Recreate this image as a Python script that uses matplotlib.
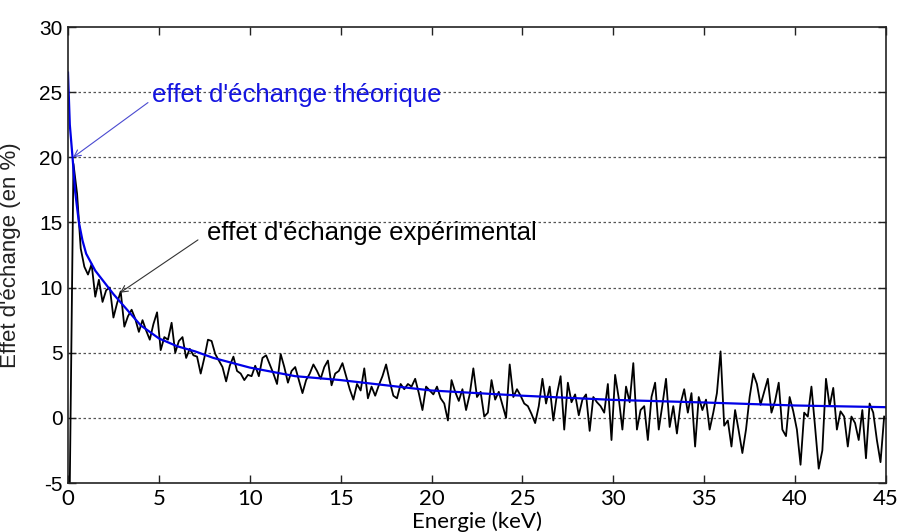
import numpy as np
import matplotlib
matplotlib.use("Agg")
import matplotlib.pyplot as plt

# experimental exchange effect, sampled every 0.2 keV starting at 0.1 keV
energie_exp = np.arange(0.1, 45.0, 0.2)
effet_exp = [
    -5.0, 19.5, 17.2, 13.0, 11.6, 11.0, 11.8, 9.3, 10.6, 8.9,
    9.8, 10.0, 7.7, 8.8, 9.7, 7.0, 7.8, 8.3, 7.6, 6.6,
    7.5, 6.7, 6.0, 7.2, 8.1, 5.2, 6.2, 6.0, 7.3, 5.0,
    5.9, 6.2, 4.6, 5.3, 4.8, 4.7, 3.4, 4.6, 6.0, 5.9,
    4.9, 4.4, 3.9, 2.8, 4.0, 4.7, 3.6, 3.4, 2.9, 3.3,
    3.2, 4.0, 3.2, 4.6, 4.8, 4.1, 3.4, 2.6, 4.9, 3.9,
    2.7, 3.6, 3.9, 2.9, 1.9, 2.9, 3.4, 4.1, 3.6, 3.0,
    3.9, 4.4, 2.5, 3.4, 3.6, 4.2, 3.2, 2.2, 1.4, 2.6,
    2.1, 3.8, 1.5, 2.4, 1.7, 2.5, 3.2, 4.1, 2.8, 1.7,
    1.5, 2.6, 2.2, 2.6, 2.4, 3.0, 1.9, 0.6, 2.4, 2.1,
    1.8, 2.4, 1.5, 1.1, -0.2, 2.9, 2.0, 1.3, 2.2, 0.6,
    1.8, 3.8, 1.6, 2.0, 0.1, 0.4, 2.9, 1.4, 2.0, 1.0,
    0.0, 4.1, 1.6, 2.2, 1.7, 1.1, 0.9, 0.3, -0.4, 0.9,
    3.0, 1.1, 2.4, -0.2, 1.8, 3.2, -0.9, 2.7, 1.2, 1.8,
    0.2, 1.4, 1.8, -1.0, 1.6, 1.2, 0.9, 0.4, 2.6, -1.7,
    3.3, 1.5, -0.9, 2.4, 1.2, 4.2, -0.9, 0.6, 0.9, -1.7,
    1.6, 2.7, -0.9, 1.0, 3.0, -0.7, 0.9, -1.2, 1.1, 2.2,
    0.4, 1.9, -2.2, 1.6, 0.6, 1.4, -0.9, 0.4, 1.9, 5.1,
    -0.6, -0.2, -2.2, 0.6, -1.0, -2.7, -0.9, 1.6, 3.4, 2.6,
    1.0, 2.0, 3.0, 0.4, 1.3, 2.7, -0.9, -1.4, 1.6, 0.5,
    -0.9, -3.6, 0.4, 0.1, 2.4, -0.7, -3.9, -2.5, 3.0, 0.9,
    2.3, -0.9, 0.5, 0.1, -2.2, 0.1, -0.4, -1.7, 0.6, -3.1,
    1.1, 0.4, -1.7, -3.4, 0.1,
]

# theoretical exchange effect
energie_th = [0, 0.1, 0.25, 0.4, 0.6, 0.8, 1.0, 1.5, 2.0, 2.5, 3, 4, 5, 6, 7,
              8, 10, 12.5, 15, 20, 25, 30, 35, 40, 45]
effet_th = [26.5, 22.5, 20.0, 17.3, 15.0, 13.6, 12.6, 11.3, 10.4, 9.5, 8.7,
            7.1, 6.1, 5.5, 5.1, 4.6, 3.86, 3.2, 2.9, 2.1, 1.7, 1.38, 1.18,
            0.95, 0.82]

xticks = [0, 5, 10, 15, 20, 25, 30, 35, 40, 45]
yticks = [-5, 0, 5, 10, 15, 20, 25, 30]

fig = plt.figure(figsize=(8.97, 5.32), dpi=100)
ax = fig.add_axes([0.0758, 0.0921, 0.9119, 0.8571])

ax.plot(energie_exp, effet_exp, color='black', lw=1.3)
ax.plot(energie_th, effet_th, color='#0000e6', lw=1.6)

ax.set_xlim(0, 45)
ax.set_ylim(-5, 30)
ax.set_xticks(xticks)
ax.set_yticks(yticks)
ax.set_xticklabels([str(v) for v in xticks], family='Lato', fontsize=16)
ax.set_yticklabels([str(v) for v in yticks], family='Liberation Sans', fontsize=15)
ax.tick_params(direction='in', length=6, width=1, top=True, right=True, color='#222222')
ax.tick_params(axis='x', pad=4)
ax.tick_params(axis='y', pad=4)

for g in [0, 5, 10, 15, 20, 25]:
    ax.axhline(g, color='#555555', lw=0.9, ls=(0, (2, 2)), zorder=0)

for s in ax.spines.values():
    s.set_linewidth(1.2)
    s.set_color('#222222')

ax.set_xlabel('Energie (keV)', family='Lato', fontsize=16, labelpad=2)
ax.set_ylabel("Effet d'échange (en %)", family='Liberation Sans', fontsize=16, color='#222222')
ax.yaxis.set_label_coords(-0.058, 0.5)

# annotations
ax.text(4.6, 24.25, "effet d'échange théorique", color='#1414e0', fontsize=18.5,
        family='Liberation Sans', va='baseline')
ax.annotate('', xy=(0.28, 20.0), xytext=(4.4, 24.2),
            arrowprops=dict(arrowstyle='->', color='#4a4ad0', lw=0.8,
                            shrinkA=0, shrinkB=0, mutation_scale=12))
ax.text(7.65, 13.66, "effet d'échange expérimental", color='black', fontsize=18.5,
        family='Liberation Sans', va='baseline')
ax.annotate('', xy=(2.86, 9.6), xytext=(7.15, 13.66),
            arrowprops=dict(arrowstyle='->', color='#333333', lw=0.8,
                            shrinkA=0, shrinkB=0, mutation_scale=12))

fig.savefig('out.png', dpi=100)
